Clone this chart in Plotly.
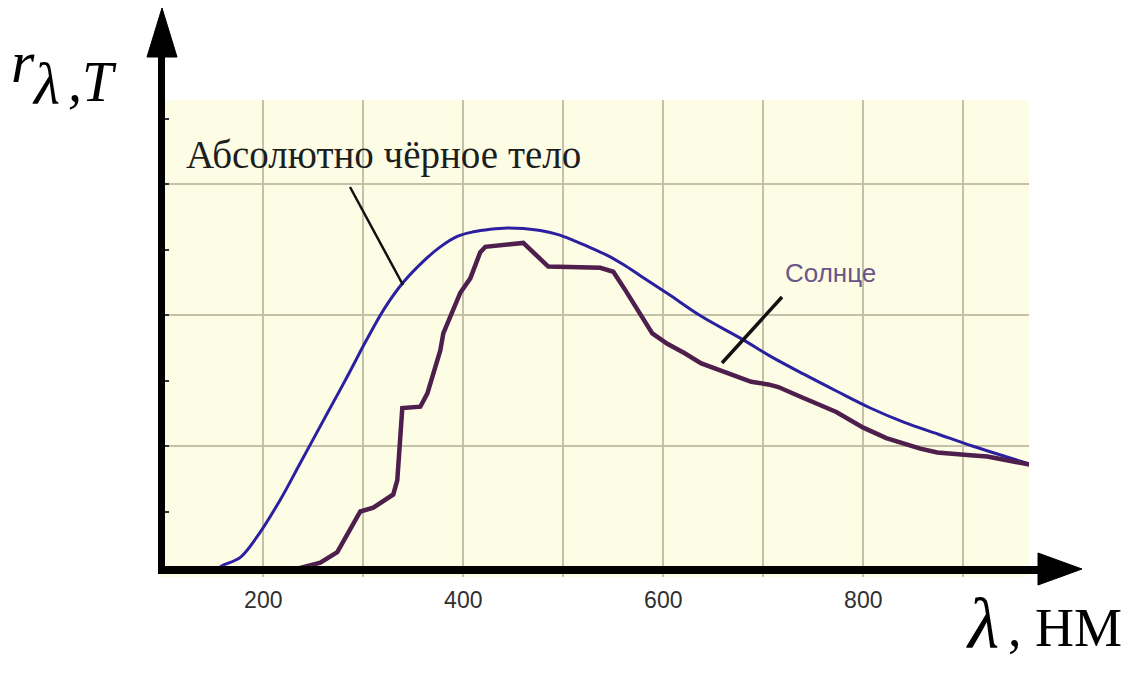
import plotly.graph_objects as go

# ---------------- data ----------------
# wavelength, nm  /  r(lambda,T) in arbitrary units
bb_wavelength = [100, 150, 160, 177, 194, 217, 237, 264, 284, 304, 322, 340, 360, 377,
                 394, 410, 427, 444, 460, 477, 494, 510, 527, 544, 560, 577, 605,
                 638, 680, 706, 740, 773, 807, 841, 875, 909, 942, 972]
bb_value = [0.05, 0.05, 0.09, 0.15, 0.31, 0.59, 0.87, 1.25, 1.53, 1.82, 2.06, 2.25, 2.41, 2.52,
            2.60, 2.635, 2.655, 2.665, 2.66, 2.645, 2.615, 2.57, 2.515, 2.455, 2.385, 2.30, 2.16,
            1.99, 1.81, 1.69, 1.55, 1.42, 1.29, 1.18, 1.09, 1.00, 0.92, 0.85]

sun_wavelength = [100, 227, 237, 257, 274, 284, 297, 310, 330, 334, 336, 339, 357, 364,
                  377, 380, 397, 407, 417, 422, 460, 485, 537, 550, 562, 577, 589,
                  604, 621, 638, 655, 672, 688, 705, 715, 739, 773, 800, 823, 857,
                  874, 907, 924, 972]
sun_value = [0.05, 0.05, 0.07, 0.11, 0.19, 0.32, 0.50, 0.53, 0.63, 0.74, 1.02, 1.29, 1.30, 1.40,
             1.73, 1.86, 2.17, 2.28, 2.48, 2.52, 2.55, 2.37, 2.36, 2.33, 2.19, 2.00, 1.86,
             1.78, 1.71, 1.63, 1.58, 1.53, 1.49, 1.47, 1.45, 1.37, 1.26, 1.14, 1.06, 0.98,
             0.95, 0.93, 0.92, 0.85]

x_grid = [200, 300, 400, 500, 600, 700, 800, 900]
x_tick_text = ["200", "", "400", "", "600", "", "800", ""]
y_grid = [1, 2, 3]

bb_label = "Абсолютно чёрное тело"
sun_label = "Солнце"

# ---------------- figure geometry ----------------
# the page body has an 8 px margin, so the figure is 8 px smaller and all
# reference pixel positions are shifted by that offset
OFF = 8
W, H = 1130 - OFF, 677 - OFF
L, R, T, B = 160 - OFF, 101, 100 - OFF, 100
PW, PH = W - L - R, H - T - B
X_RANGE = [96.7, 96.7 + PW]          # 1 px per nm
Y_RANGE = [0, PH / 131.0]            # 131 px per unit


def px(xp):  # reference page pixel -> paper x
    return (xp - OFF - L) / PW


def py(yp):  # reference page pixel -> paper y
    return (H - B - (yp - OFF)) / PH


fig = go.Figure()

fig.add_trace(go.Scatter(x=bb_wavelength, y=bb_value, mode="lines",
                         line=dict(color="#2a20a0", width=3, shape="spline", smoothing=1.0),
                         name="bb", showlegend=False, hoverinfo="skip"))
fig.add_trace(go.Scatter(x=sun_wavelength, y=sun_value, mode="lines",
                         line=dict(color="#4e1e4c", width=4.5),
                         name="sun", showlegend=False, hoverinfo="skip"))

shapes = []
# y axis with arrow
shapes.append(dict(type="line", xref="paper", yref="paper", x0=px(161.5), x1=px(161.5),
                   y0=py(574), y1=py(50), line=dict(color="black", width=7)))
shapes.append(dict(type="path", xref="paper", yref="paper",
                   path=f"M {px(147)} {py(57)} L {px(177)} {py(57)} L {px(162)} {py(8)} Z",
                   fillcolor="black", line=dict(color="black", width=1)))
# x axis with arrow
shapes.append(dict(type="line", xref="paper", yref="paper", x0=px(158), x1=px(1045),
                   y0=py(570), y1=py(570), line=dict(color="black", width=8)))
shapes.append(dict(type="path", xref="paper", yref="paper",
                   path=f"M {px(1038)} {py(553)} L {px(1038)} {py(585)} L {px(1082)} {py(569)} Z",
                   fillcolor="black", line=dict(color="black", width=1)))
# leader lines
shapes.append(dict(type="line", xref="paper", yref="paper", x0=px(350), y0=py(187),
                   x1=px(403), y1=py(285), line=dict(color="#111111", width=2.5)))
shapes.append(dict(type="line", xref="paper", yref="paper", x0=px(782), y0=py(297),
                   x1=px(722), y1=py(363), line=dict(color="#111111", width=3.5)))

annotations = []
serif = "Liberation Serif, Times New Roman, serif"
sans = "Liberation Sans, Arial, sans-serif"
annotations.append(dict(text=bb_label, xref="paper", yref="paper", x=px(383), y=py(155),
                        xanchor="center", yanchor="middle", showarrow=False,
                        font=dict(family=serif, size=39, color="#1e1e1e")))
annotations.append(dict(text=sun_label, xref="paper", yref="paper", x=px(830), y=py(273),
                        xanchor="center", yanchor="middle", showarrow=False,
                        font=dict(family=sans, size=26, color="#6a5686")))
# axis titles
annotations.append(dict(text="<i>r</i>", xref="paper", yref="paper", x=px(9), y=py(62),
                        xanchor="left", yanchor="middle", showarrow=False,
                        font=dict(family=serif, size=60, color="black")))
annotations.append(dict(text="<i>λ</i>", xref="paper", yref="paper", x=px(30), y=py(84),
                        xanchor="left", yanchor="middle", showarrow=False,
                        font=dict(family=serif, size=60, color="black")))
annotations.append(dict(text="<i>,T</i>", xref="paper", yref="paper", x=px(66), y=py(82),
                        xanchor="left", yanchor="middle", showarrow=False,
                        font=dict(family=serif, size=56, color="black")))
annotations.append(dict(text="<i>λ</i>", xref="paper", yref="paper", x=px(964), y=py(624),
                        xanchor="left", yanchor="middle", showarrow=False,
                        font=dict(family=serif, size=72, color="black")))
annotations.append(dict(text=", НМ", xref="paper", yref="paper", x=px(1006), y=py(628),
                        xanchor="left", yanchor="middle", showarrow=False,
                        font=dict(family=serif, size=54, color="black")))

fig.update_layout(
    width=W, height=H, autosize=False,
    margin=dict(l=L, r=R, t=T, b=B, pad=0),
    paper_bgcolor="white", plot_bgcolor="#fdfde6",
    shapes=shapes, annotations=annotations, showlegend=False,
    xaxis=dict(range=X_RANGE, tickvals=x_grid, ticktext=x_tick_text, showgrid=True,
               gridcolor="#c4c1a6", gridwidth=2, zeroline=False, showline=False,
               ticks="", ticklen=0, ticklabelstandoff=7,
               tickfont=dict(family=sans, size=23, color="#303030"),
               fixedrange=True),
    yaxis=dict(range=Y_RANGE, tickvals=y_grid, showgrid=True, gridcolor="#c4c1a6", gridwidth=2,
               zeroline=False, showline=False, showticklabels=False,
               ticks="inside", ticklen=9, tickwidth=2, tickcolor="#333333",
               minor=dict(dtick=0.5, tick0=0, ticks="inside", ticklen=9, tickwidth=2,
                          tickcolor="#333333", showgrid=False),
               fixedrange=True),
)

fig.write_html("out.html")
